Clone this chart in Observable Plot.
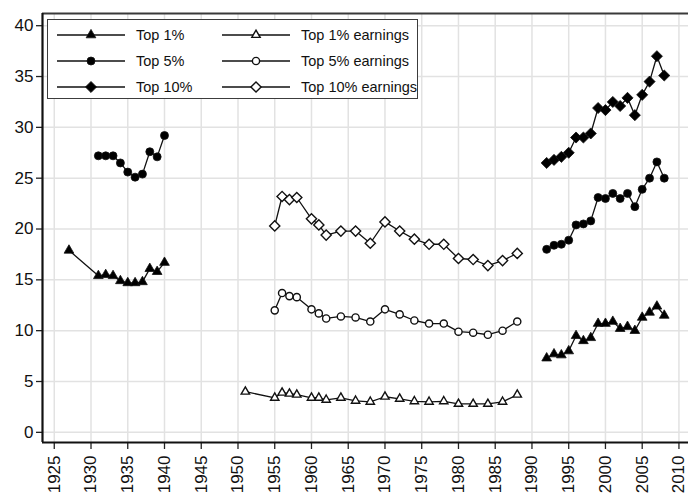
<!DOCTYPE html>
<html><head><meta charset="utf-8">
<script src="https://cdn.jsdelivr.net/npm/d3@7"></script>
<script src="https://cdn.jsdelivr.net/npm/@observablehq/plot@0.6"></script>
<style>
body{margin:0;background:#fff;font-family:"Liberation Sans",Arial,Helvetica,sans-serif;}
#wrap{position:relative;width:688px;height:497px;overflow:hidden;}
#legend{position:absolute;left:47px;top:19px;width:371px;height:80px;border:1.5px solid #3c3c3c;background:#fff;box-sizing:border-box;}
.item{position:absolute;display:flex;align-items:center;font-size:14.5px;color:#111;white-space:nowrap;}
.item svg{margin-right:11px;flex:none;}
</style></head>
<body><div id="wrap"><div id="chart"></div><div id="legend"></div></div>
<script>
// ---- data ----
const incomeYears = [1927,1931,1932,1933,1934,1935,1936,1937,1938,1939,1940,
  1992,1993,1994,1995,1996,1997,1998,1999,2000,2001,2002,2003,2004,2005,2006,2007,2008];
const top1 = [17.9,15.4,15.5,15.4,14.9,14.7,14.7,14.8,16.1,15.8,16.7,
  7.3,7.7,7.6,8.0,9.5,9.0,9.3,10.7,10.7,10.9,10.2,10.4,10.0,11.3,11.8,12.4,11.5];
const top5 = [null,27.2,27.2,27.2,26.5,25.6,25.1,25.4,27.6,27.1,29.2,
  18.0,18.4,18.5,18.9,20.4,20.5,20.8,23.1,23.0,23.5,23.0,23.5,22.2,23.9,25.0,26.6,25.0];
const top10 = [null,null,null,null,null,null,null,null,null,null,null,
  26.5,26.8,27.1,27.5,29.0,29.0,29.4,31.9,31.7,32.5,32.1,32.9,31.2,33.2,34.5,37.0,35.1];

const earnYears = [1951,1955,1956,1957,1958,1960,1961,1962,1964,1966,1968,1970,1972,1974,1976,1978,1980,1982,1984,1986,1988];
const top1Earn = [4.0,3.4,3.9,3.8,3.7,3.4,3.4,3.2,3.4,3.1,3.0,3.5,3.3,3.05,3.0,3.05,2.8,2.8,2.8,3.0,3.7];
const top5Earn = [null,12.0,13.7,13.4,13.3,12.1,11.7,11.2,11.4,11.3,10.9,12.1,11.6,11.0,10.7,10.7,9.9,9.8,9.6,10.0,10.9];
const top10Earn = [null,20.3,23.2,22.9,23.1,21.0,20.4,19.4,19.8,19.8,18.6,20.7,19.8,19.0,18.5,18.5,17.1,17.0,16.4,16.9,17.6];

const xTicks = d3.range(1925, 2011, 5);
const yTicks = d3.range(0, 41, 5);
const xDomain = [1923.4, 2011.3];
const yDomain = [-1, 41.2];

const seriesDefs = [
  {name:"Top 1%", years:incomeYears, values:top1, symbol:"triangle", fill:"black", r:3.6},
  {name:"Top 5%", years:incomeYears, values:top5, symbol:"circle", fill:"black", r:4},
  {name:"Top 10%", years:incomeYears, values:top10, symbol:"diamond2", fill:"black", r:5},
  {name:"Top 1% earnings", years:earnYears, values:top1Earn, symbol:"triangle", fill:"white", r:3.1},
  {name:"Top 5% earnings", years:earnYears, values:top5Earn, symbol:"circle", fill:"white", r:3.6},
  {name:"Top 10% earnings", years:earnYears, values:top10Earn, symbol:"diamond2", fill:"white", r:4.6}
];

const rows = [];
seriesDefs.forEach(s => s.years.forEach((yr, i) => {
  if (s.values[i] != null) rows.push({series:s.name, seg:s.name + (yr < 1960 ? "a" : "b"), year:yr, value:s.values[i]});
}));
const isEarn = d => d.series.includes("earnings");

const marks = [
  Plot.gridX(xTicks, {stroke:"#e2e2e2", strokeOpacity:1, strokeWidth:1.5}),
  Plot.gridY(yTicks, {stroke:"#e2e2e2", strokeOpacity:1, strokeWidth:1.5}),
  Plot.ruleY([yDomain[1]], {stroke:"#3a3a3a", strokeWidth:2}),
  Plot.axisY(yTicks, {label:null, tickSize:6, tickPadding:3, fontSize:17, stroke:"#222", strokeWidth:1.3, color:"#111"}),
  Plot.axisX(xTicks, {label:null, tickSize:7, tickPadding:6, fontSize:17, tickRotate:-90, tickFormat:d=>String(d), stroke:"#222", strokeWidth:1.3, color:"#111"}),
];
// lines (income lines break between the two periods; earnings connect)
marks.push(Plot.line(rows.filter(d => !isEarn(d)), {x:"year", y:"value", z:"seg", stroke:"#111", strokeWidth:1.3}));
marks.push(Plot.line(rows.filter(isEarn), {x:"year", y:"value", z:"series", stroke:"#111", strokeWidth:1.3}));
seriesDefs.forEach(s => {
  marks.push(Plot.dot(rows.filter(d => d.series === s.name), {
    x:"year", y:"value", symbol:()=>s.symbol, r:s.r,
    fill:s.fill, stroke:"#111", strokeWidth: s.fill === "white" ? 1.4 : 0.8
  }));
});
marks.push(Plot.ruleX([xDomain[0]], {stroke:"#111", strokeWidth:2.2}));
marks.push(Plot.ruleY([yDomain[0]], {stroke:"#111", strokeWidth:2.2}));

const chart = Plot.plot({
  width:688, height:497,
  marginLeft:42, marginRight:0, marginTop:13, marginBottom:55,
  style:{fontFamily:'"Liberation Sans",Arial,Helvetica,sans-serif', background:"white"},
  x:{domain:xDomain, axis:null, label:null},
  y:{domain:yDomain, axis:null, label:null},
  symbol:{type:"identity"},
  marks
});
document.getElementById("chart").appendChild(chart);

// ---- legend ----
const legend = document.getElementById("legend");
const symbolMap = {triangle:d3.symbolTriangle, circle:d3.symbolCircle, diamond2:d3.symbolDiamond2};
seriesDefs.forEach((s, i) => {
  const col = i < 3 ? 0 : 1, row = i % 3;
  const item = document.createElement("div");
  item.className = "item";
  item.style.left = (col === 0 ? 9 : 174) + "px";
  item.style.top = (5 + row * 26) + "px";
  const svg = d3.create("svg").attr("width", 68).attr("height", 20);
  svg.append("line").attr("x1",0).attr("x2",68).attr("y1",10).attr("y2",10).attr("stroke","#111").attr("stroke-width",1.3);
  svg.append("path").attr("transform","translate(34,10)")
    .attr("d", d3.symbol(symbolMap[s.symbol], Math.PI * s.r * s.r)())
    .attr("fill", s.fill).attr("stroke","#111").attr("stroke-width", s.fill === "white" ? 1.4 : 0.8);
  item.appendChild(svg.node());
  const t = document.createElement("span");
  t.textContent = s.name;
  item.appendChild(t);
  legend.appendChild(item);
});
</script></body></html>
